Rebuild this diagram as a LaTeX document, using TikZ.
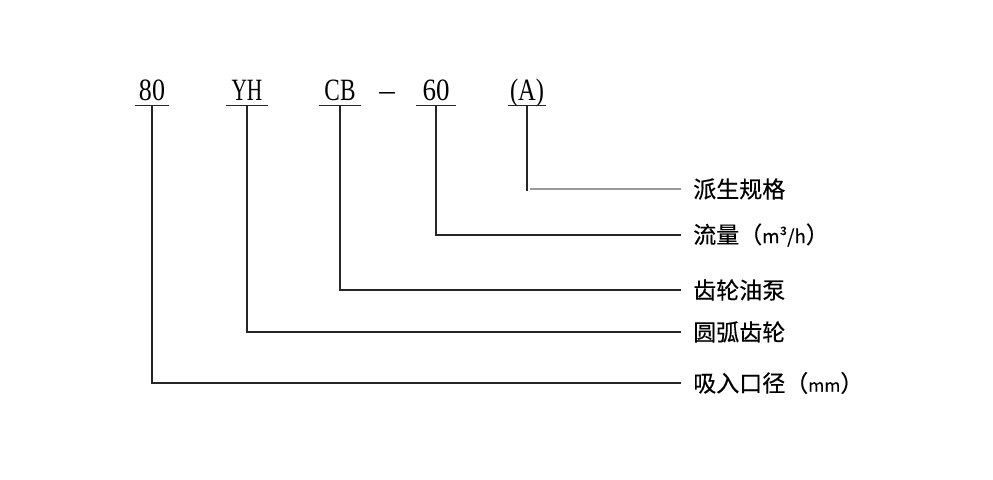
\documentclass[tikz,border=0pt]{standalone}
\usepackage{fontspec}
\setmainfont{Liberation Serif}
\newfontfamily\cjk{Noto Sans CJK SC}[FakeBold=0.4]
\newcommand{\codesx}[2]{\scalebox{#1}[1]{#2}}
\begin{document}
\begin{tikzpicture}[x=0.75pt,y=-0.75pt,
  code/.style={anchor=base, inner sep=0pt, font=\fontsize{23.25}{24}\selectfont},
  lab/.style={anchor=west, inner sep=0pt, font=\cjk\fontsize{17.25}{18}\selectfont},
  wire/.style={line width=1.3pt, black!85},
  greywire/.style={line width=1.3pt, black!40},
  uline/.style={line width=1.3pt, black!85}]
\useasboundingbox (0,0) rectangle (993,479);

% codes
\node[code, minimum width=25.5pt] (c80) at (152,100) {\codesx{0.84}{80}};
\node[code, minimum width=31.5pt] (cYH) at (247,100) {\codesx{0.69}{YH}};
\node[code, minimum width=30.75pt] (cCB) at (340,100) {\codesx{0.75}{CB}};
\node[code] (dash) at (387,100) {–};
\node[code, minimum width=29.25pt] (c60) at (436,100) {\codesx{0.87}{60}};
\node[code, minimum width=28.5pt] (cA) at (527,100) {\codesx{0.79}{(A)}};

% underlines
\foreach \n in {c80,cYH,cCB,c60,cA}
  \draw[uline] ([yshift=-4.1pt]\n.base west) -- ([yshift=-4.1pt]\n.base east);

% labels
\node[lab] (l1) at (693,189) {派生规格};
\node[lab] (l2) at (693,235) {流量（{\fontsize{14}{15}\selectfont m³/h}）};
\node[lab] (l3) at (693,290) {齿轮油泵};
\node[lab] (l4) at (693,332) {圆弧齿轮};
\node[lab] (l5) at (693,383) {吸入口径（{\fontsize{13}{14}\selectfont mm}）};

% connectors
\coordinate (kA) at (cA.base |- l1.west);
\draw[wire] ([yshift=-4.1pt]cA.base) -- ([yshift=-1.5pt]kA);
\draw[greywire] ([xshift=2.5pt]kA) -- ([xshift=-9pt]l1.west);
\draw[wire] ([yshift=-4.1pt]c60.base) |- ([xshift=-9pt]l2.west);
\draw[wire] ([yshift=-4.1pt]cCB.base) |- ([xshift=-9pt]l3.west);
\draw[wire] ([yshift=-4.1pt]cYH.base) |- ([xshift=-9pt]l4.west);
\draw[wire] ([yshift=-4.1pt]c80.base) |- ([xshift=-9pt]l5.west);
\end{tikzpicture}
\end{document}
